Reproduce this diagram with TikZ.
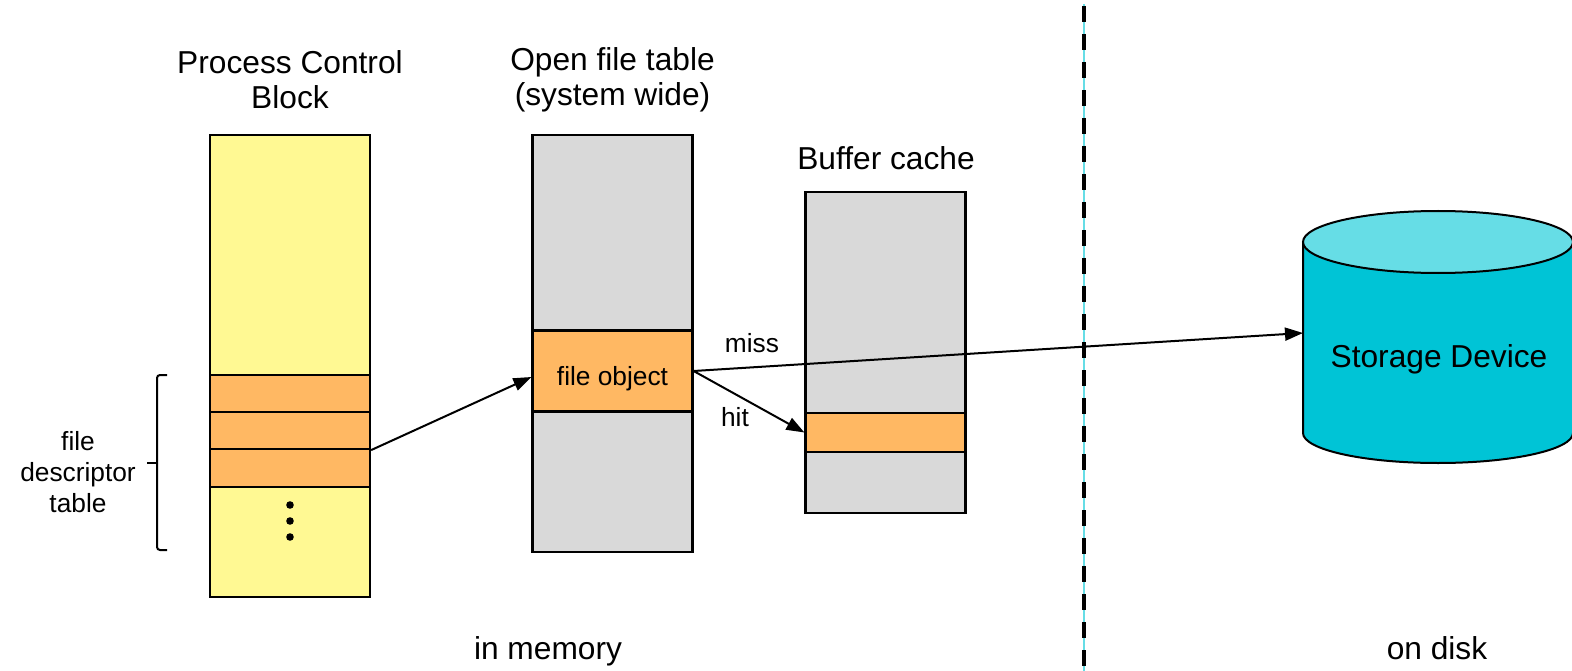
\documentclass[tikz,border=0pt]{standalone}
\usepackage{fontspec}
\setmainfont{Liberation Sans}
\usetikzlibrary{arrows.meta,calc}

\definecolor{pcbyellow}{HTML}{FFF993}
\definecolor{slotorange}{HTML}{FFB863}
\definecolor{tablegray}{HTML}{D9D9D9}
\definecolor{disktop}{HTML}{66DDE6}
\definecolor{diskbody}{HTML}{00C4D6}

\tikzset{
  bigtext/.style={font=\fontsize{31.7}{35}\selectfont, inner sep=0pt, align=center},
  smalltext/.style={font=\fontsize{26.3}{31}\selectfont, inner sep=0pt, align=center},
  column/.style={draw=black, line width=2.2pt, inner sep=0pt, minimum width=160pt},
  slot/.style={draw=black, line width=2.2pt, fill=slotorange, inner sep=0pt, minimum width=160pt},
  link/.style={line width=2pt, -{Triangle[length=18pt,width=13pt]}},
}

\begin{document}
\begin{tikzpicture}[x=1pt,y=-1pt]
\useasboundingbox (0,0) rectangle (1572,671);

% memory / disk divider
\draw[color=disktop, line width=2pt] (1084,4) -- (1084,671);
\draw[black, line width=4pt, dash pattern=on 16pt off 12pt] (1084,6) -- (1084,671);

% process control block
\node[column, fill=pcbyellow, minimum height=462pt] (pcb) at (290,366) {};
\node[slot, minimum height=37pt] (slotA) at (290,393.5) {};
\node[slot, minimum height=37pt] (slotB) at (290,430.5) {};
\node[slot, minimum height=38pt] (slotC) at (290,468) {};
\foreach \yy/\nm in {505/dotA,521/dotB,537/dotC}
  \fill (290,\yy) circle[radius=3.8pt] coordinate (\nm);
\node[bigtext] (pcbtitle) at (290,80) {Process Control\\Block};

% brace for the descriptor table
\draw[line width=2pt, rounded corners=3pt] (167,375) -| (157,463);
\draw[line width=2pt, rounded corners=3pt] (157,463) |- (167,550);
\draw[line width=2pt] (157,463) -- (147,463);
\node[smalltext] (fdt) at (78,472) {file\\descriptor\\table};

% open file table
\node[column, fill=tablegray, minimum height=417pt] (oft) at (612.5,343.5) {};
\node[slot, minimum height=81pt] (fobj) at (612.5,371) {};
\node[smalltext] (fobjtext) at (612.5,379) {file object};
\node[bigtext] (ofttitle) at (612.5,80) {Open file table\\(system wide)};

% buffer cache
\node[column, fill=tablegray, minimum height=321pt] (buf) at (885.5,352.5) {};
\node[slot, minimum height=39pt] (bufent) at (885.5,432.5) {};
\node[bigtext] (buftitle) at (886,158) {Buffer cache};

% storage device (cylinder)
\fill[diskbody] (1303,242) -- (1303,433) arc[start angle=180, end angle=0, x radius=135, y radius=30]
  -- (1573,242) -- cycle;
\draw[line width=2pt] (1303,242) -- (1303,433) arc[start angle=180, end angle=0, x radius=135, y radius=30]
  -- (1573,242);
\draw[line width=2pt, fill=disktop] (1438,242) ellipse[x radius=135, y radius=31];
\node[bigtext] (disk) at (1439,359) {Storage Device};
\coordinate (diskin) at (1303,333);

% connectors
\draw[link] (slotB.south east) -- ($(fobj.west)+(0,6)$);
\draw[link] (fobj.east) -- (bufent.west);
\draw[link] (fobj.east) -- (diskin);
\node[smalltext] (misslbl) at (752,343) {miss};
\node[smalltext] (hitlbl) at (735,417) {hit};

% region labels
\node[bigtext] (inmem) at (548,651) {in memory};
\node[bigtext] (ondisk) at (1437,648) {on disk};
\end{tikzpicture}
\end{document}
